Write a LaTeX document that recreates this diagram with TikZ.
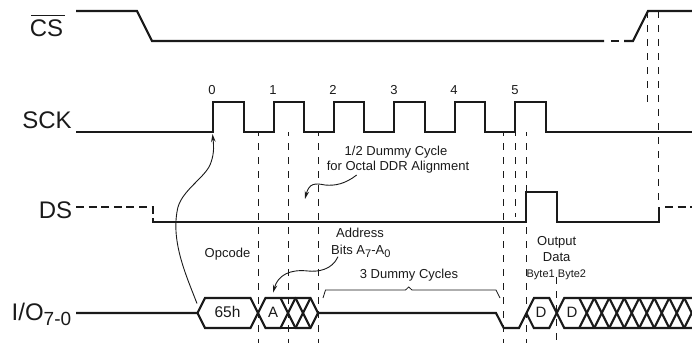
\documentclass[tikz,border=0pt]{standalone}
\usepackage{fontspec}
\setmainfont{Liberation Sans}
\usetikzlibrary{arrows.meta}
\definecolor{ink}{HTML}{1A1A1A}
\newcommand{\fs}[1]{\fontsize{#1}{#1}\selectfont}
\newcommand{\sbs}[3]{\raisebox{#1}{\fs{#2}#3}}
\tikzset{
  x=1pt,y=-1pt,
  sig/.style={line width=2.1pt,ink,line cap=butt,line join=miter},
  sigdash/.style={sig,dash pattern=on 8pt off 4.6pt},
  guide/.style={line width=0.9pt,ink,dash pattern=on 7pt off 7pt},
  thinline/.style={line width=0.8pt,ink},
  note/.style={-{Stealth[length=8pt,width=4.5pt]},line width=0.9pt,ink},
  big/.style={inner sep=0pt,anchor=base,font=\fs{24},text=ink},
  label/.style={inner sep=0pt,anchor=base,font=\fs{13},text=ink},
  small/.style={inner sep=0pt,anchor=base,font=\fs{11},text=ink},
  busl/.style={inner sep=0pt,anchor=base,font=\fs{15},text=ink}
}
\begin{document}
\begin{tikzpicture}
\useasboundingbox (0,0) rectangle (692,343);
% guides
\draw[guide,dash phase=3pt] (258,132) -- (258,343);
\draw[guide,dash phase=3pt] (288,132) -- (288,343);
\draw[guide,dash phase=3pt] (318.5,132) -- (318.5,343);
\draw[guide,dash phase=3pt] (503.7,132) -- (503.7,343);
\draw[guide,dash phase=3pt] (515,132) -- (515,217);
\draw[guide,dash phase=3pt] (526.3,132) -- (526.3,343);
\draw[guide] (556.7,277) -- (556.7,343);
\draw[guide] (647.5,11) -- (647.5,105);
\draw[guide] (658.7,11) -- (658.7,222);
% CS
\draw[sig] (76,11) -- (137,11) -- (152,41) -- (604,41);
\draw[sig] (611,41) -- (619,41);
\draw[sig] (624,41) -- (633,41) -- (648,11) -- (692,11);
% SCK
\draw[sig] (76,132) -- (213,132) -- (213,102) -- (244,102) -- (244,132) -- (274,132) -- (274,102) -- (304,102) -- (304,132) -- (334,132) -- (334,102) -- (364,102) -- (364,132) -- (394,132) -- (394,102) -- (425,102) -- (425,132) -- (455,132) -- (455,102) -- (485,102) -- (485,132) -- (515,132) -- (515,102) -- (546,102) -- (546,132) -- (692,132);
% DS
\draw[sigdash] (76,207) -- (153,207) -- (153,222);
\draw[sig] (152,222) -- (526,222) -- (526,192) -- (557,192) -- (557,222) -- (660,222);
\draw[sig] (659,222) -- (659,207);
\draw[sigdash] (665,207) -- (692,207);
% I/O bus
\draw[sig] (76,313) -- (197.5,313) -- (205,298) -- (250.5,298) -- (265.5,328) -- (280.5,328) -- (295.5,298) -- (310.5,298) -- (318,313) -- (496,313) -- (503.7,328) -- (519,328) -- (534,298) -- (549.2,298) -- (564.2,328) -- (692,328);
\draw[sig] (197.5,313) -- (205,328) -- (250.5,328) -- (265.5,298) -- (295.5,298);
\draw[sig] (280.5,298) -- (295.5,328) -- (310.5,328) -- (318,313);
\draw[sig] (265.5,328) -- (310.5,328);
\draw[sig] (295.5,298) -- (310.5,328);
\draw[sig] (295.5,328) -- (310.5,298);
\draw[sig] (526.3,313) -- (533.8,328) -- (549.2,328) -- (564.2,298) -- (692,298);
\foreach \c in {586.7,601.7,616.7,631.7,646.7,661.7,676.7,691.7}{
  \draw[sig] (\c-7.5,298) -- (\c+7.5,328);
  \draw[sig] (\c-7.5,328) -- (\c+7.5,298);
}
% annotation arrows and brace
\draw[note] (197,303.5) .. controls (186,275) and (170,240) .. (178,207) .. controls (183,190) and (204,178) .. (210,165) .. controls (214,155) and (214,148) .. (212.5,134);
\draw[note] (356.7,175) .. controls (345,184) and (335,186) .. (325,185) .. controls (315,183) and (309,183) .. (305,199);
\draw[note] (338,256.7) .. controls (332,270) and (318,272) .. (308,271) .. controls (290,269) and (278,275) .. (273,292.7);
\draw[thinline] (323,298) -- (325.5,290) -- (405.5,290) -- (408.7,287) -- (412,290) -- (496,290) -- (500,298);
% labels
\node[big] (cs) at (46.5,36.5) {CS};
\draw[line width=1pt,ink] (31,15) -- (65,15);
\node[big] (sck) at (47,128) {SCK};
\node[big] (ds) at (55.5,218.5) {DS};
\node[big,anchor=base west] (io) at (11.5,320) {I/O\sbs{-5pt}{19}{7-0}};
\foreach \n/\x/\t in {n0/212/0,n1/273/1,n2/333/2,n3/394/3,n4/454/4,n5/515/5}{
  \node[label] (\n) at (\x,94) {\t};
}
\node[label] (halfa) at (396,155) {1/2 Dummy Cycle};
\node[label] (halfb) at (398,170.7) {for Octal DDR Alignment};
\node[label] (addra) at (360,237) {Address};
\node[label,anchor=base west] (addrb) at (331,254) {Bits A\sbs{-3pt}{11}{7}-A\sbs{-3pt}{11}{0}};
\node[label] (opc) at (227.5,257) {Opcode};
\node[label] (dum) at (409,278.7) {3 Dummy Cycles};
\node[label] (outa) at (556.7,245.3) {Output};
\node[label] (outb) at (556.7,261) {Data};
\node[small] (b1) at (540.7,277) {Byte1};
\node[small] (b2) at (572,277) {Byte2};
\node[inner sep=0pt,anchor=base,font=\fs{15.5},text=ink] (h65) at (227.5,317.7) {65h};
\node[busl] (a) at (273,317.7) {A};
\node[busl] (d1) at (541,317.5) {D};
\node[busl] (d2) at (572,317.5) {D};
\end{tikzpicture}
\end{document}
